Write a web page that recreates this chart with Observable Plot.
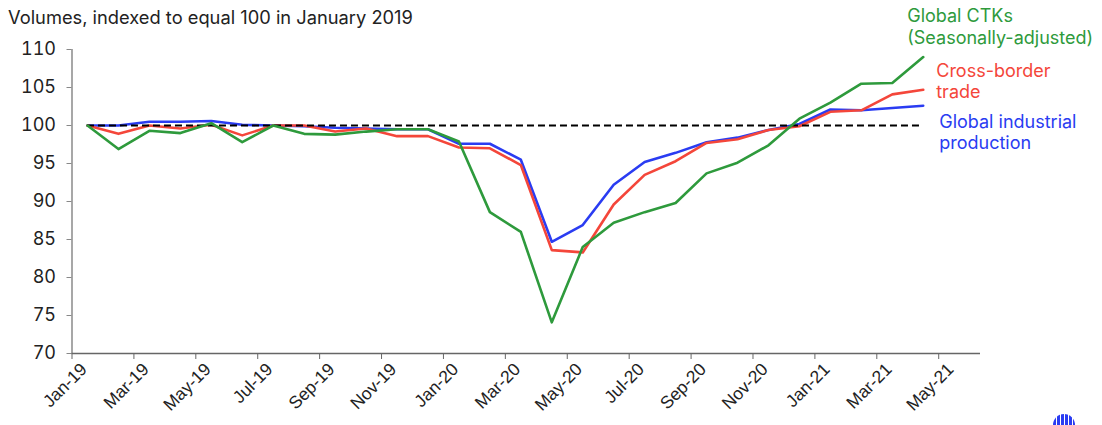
<!DOCTYPE html>
<html>
<head>
<meta charset="utf-8">
<script src="https://cdn.jsdelivr.net/npm/d3@7"></script>
<script src="https://cdn.jsdelivr.net/npm/@observablehq/plot@0.6"></script>
<style>
  html, body { margin: 0; padding: 0; background: #fff; }
  #wrap { position: relative; width: 1102px; height: 425px; font-family: Inter, "Noto Sans", sans-serif; overflow: hidden; }
  #title { position: absolute; left: 8px; top: 6px; font-size: 18.3px; color: #222; white-space: nowrap; }
  #logo { position: absolute; left: 1053px; top: 414px; width: 22px; height: 22px; border-radius: 50%;
          background: repeating-linear-gradient(90deg, #2a3cf2 0 3px, #fff 3px 4px); }
</style>
</head>
<body>
<div id="wrap">
  <div id="chart"></div>
  <div id="title">Volumes, indexed to equal 100 in January 2019</div>
  <div id="logo"></div>
</div>
<script>
const months = ["Jan-19","Feb-19","Mar-19","Apr-19","May-19","Jun-19","Jul-19","Aug-19","Sep-19","Oct-19","Nov-19","Dec-19",
  "Jan-20","Feb-20","Mar-20","Apr-20","May-20","Jun-20","Jul-20","Aug-20","Sep-20","Oct-20","Nov-20","Dec-20",
  "Jan-21","Feb-21","Mar-21","Apr-21"];
const ctks = [100, 96.9, 99.3, 99.0, 100.3, 97.8, 100.0, 98.9, 98.8, 99.2, 99.5, 99.5,
  97.9, 88.6, 86.0, 74.1, 84.0, 87.2, 88.6, 89.8, 93.7, 95.1, 97.4, 100.9,
  103.0, 105.5, 105.6, 109.0];
const trade = [100, 98.9, 100.0, 99.6, 100.1, 98.7, 100.0, 100.0, 99.2, 99.6, 98.6, 98.6,
  97.1, 97.0, 94.8, 83.6, 83.3, 89.6, 93.5, 95.3, 97.7, 98.2, 99.4, 99.9,
  101.8, 102.0, 104.1, 104.7];
const industrial = [100, 100.0, 100.5, 100.5, 100.6, 100.1, 100.0, 99.9, 99.7, 99.6, 99.5, 99.5,
  97.6, 97.6, 95.5, 84.7, 86.9, 92.2, 95.2, 96.4, 97.8, 98.4, 99.4, 100.2,
  102.1, 102.0, 102.3, 102.6];
const tickLabels = ["Jan-19","Mar-19","May-19","Jul-19","Sep-19","Nov-19","Jan-20","Mar-20","May-20","Jul-20","Sep-20","Nov-20","Jan-21","Mar-21","May-21"];
const yTicks = [70, 75, 80, 85, 90, 95, 100, 105, 110];
const seriesNames = ["Global CTKs\n(Seasonally-adjusted)", "Cross-border\ntrade", "Global industrial\nproduction"];
const seriesColors = ["#2e9a3c", "#f4463a", "#2a3cf2"];

// month i sits in the middle of its category slot
const rows = months.map((m, i) => ({month: m, pos: i + 0.5, ctks: ctks[i], trade: trade[i], industrial: industrial[i]}));
const last = rows[rows.length - 1];
const xTicks = tickLabels.map((_, k) => 2 * k);

const chart = Plot.plot({
  width: 1102,
  height: 425,
  marginLeft: 71.5,
  marginRight: 122,
  marginTop: 49,
  marginBottom: 72,
  style: {fontFamily: "Inter, 'Noto Sans', sans-serif", fontSize: "18px", color: "#222", background: "#fff"},
  x: {domain: [0, 29.35]},
  y: {domain: [70, 110]},
  marks: [
    Plot.axisY({ticks: yTicks, tickSize: 5, tickPadding: 11, label: null, stroke: "#888", fontSize: 18, fill: "#222"}),
    // tick marks only
    Plot.axisX({ticks: xTicks, tickFormat: () => "", tickSize: 6, label: null, stroke: "#666"}),
    // rotated labels, shifted right of their ticks
    Plot.axisX({ticks: xTicks, tickFormat: (d) => tickLabels[d / 2], tickSize: 0, tickPadding: 13,
      tickRotate: -45, dx: 12, label: null, fontSize: 17.5, fill: "#222", fontFamily: "'Liberation Sans', Arial, sans-serif"}),
    Plot.ruleX([0], {y1: 70, y2: 110, stroke: "#8a8a8a", strokeWidth: 1.5}),
    Plot.ruleY([70], {stroke: "#666", strokeWidth: 1.5}),
    Plot.lineY(rows, {x: "pos", y: "industrial", stroke: seriesColors[2], strokeWidth: 2.6}),
    Plot.lineY(rows, {x: "pos", y: "trade", stroke: seriesColors[1], strokeWidth: 2.6}),
    Plot.ruleY([100], {x1: rows[0].pos, x2: last.pos, stroke: "#000", strokeWidth: 2.2, strokeDasharray: "7,4"}),
    Plot.lineY(rows, {x: "pos", y: "ctks", stroke: seriesColors[0], strokeWidth: 2.6}),
    Plot.text([last], {x: "pos", y: "ctks", text: () => seriesNames[0], fill: seriesColors[0], textAnchor: "start", lineAnchor: "middle", lineHeight: 1.2, dx: -16, dy: -31, fontSize: 18}),
    Plot.text([last], {x: "pos", y: "trade", text: () => seriesNames[1], fill: seriesColors[1], textAnchor: "start", lineAnchor: "middle", lineHeight: 1.2, dx: 13, dy: -9, fontSize: 18}),
    Plot.text([last], {x: "pos", y: "industrial", text: () => seriesNames[2], fill: seriesColors[2], textAnchor: "start", lineAnchor: "middle", lineHeight: 1.2, dx: 16, dy: 26, fontSize: 18})
  ]
});
document.getElementById("chart").appendChild(chart);
</script>
</body>
</html>
